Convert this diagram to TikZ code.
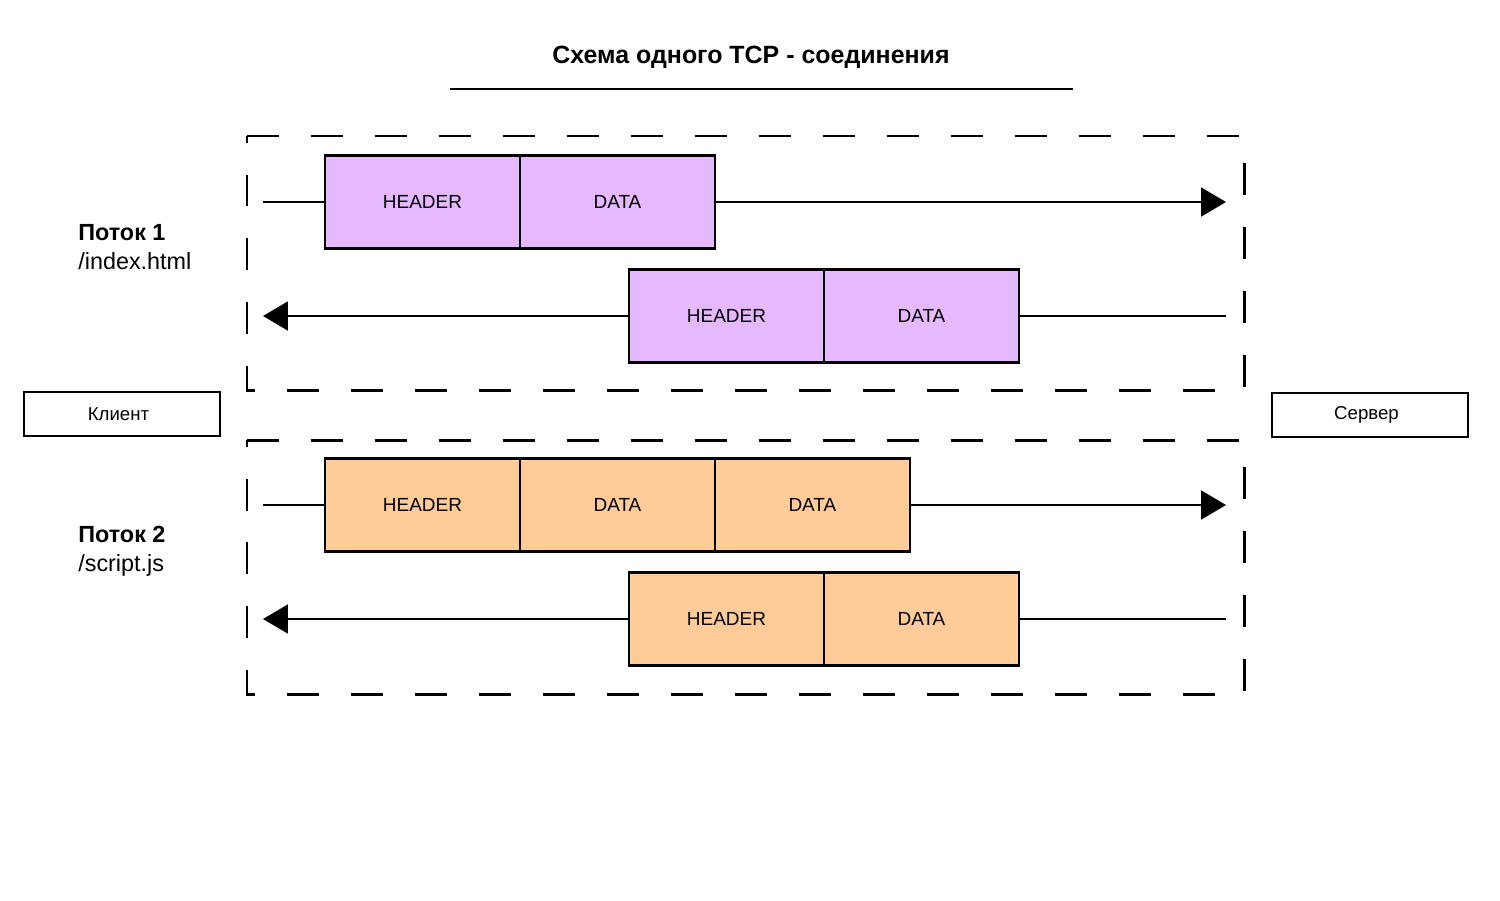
\documentclass[tikz,border=0pt]{standalone}
\usepackage{fontspec}
\setmainfont{Liberation Sans}
\usetikzlibrary{arrows.meta, positioning}
\definecolor{lilac}{HTML}{E6B8FF}
\definecolor{peach}{HTML}{FFCC99}

\begin{document}
\begin{tikzpicture}[
  x=0.02cm, y=-0.02cm,
  frame/.style={rectangle, draw, line width=1.5pt, minimum width=3.9cm, minimum height=1.86cm, inner sep=0pt, outer sep=0pt, font=\fontsize{10.8}{13}\selectfont},
  pkta/.style={frame, fill=lilac},
  pktb/.style={frame, fill=peach},
  endpoint/.style={rectangle, draw, line width=1.4pt, minimum width=3.92cm, minimum height=0.88cm, inner sep=0pt, font=\fontsize{10.6}{12}\selectfont},
  streamlabel/.style={anchor=west, align=left, inner sep=0pt, font=\fontsize{13.3}{16.6}\selectfont},
  group/.style={line width=1.7pt, dash pattern=on 0.64cm off 0.64cm},
  link/.style={line width=1.1pt},
  arrow/.style={line width=1.1pt, -{Triangle[length=0.5cm, width=0.58cm]}}
]
\useasboundingbox (0,0) rectangle (1500,900);

% Title
\node[font=\fontsize{14.2}{17}\selectfont\bfseries] (title) at (751,57) {Схема одного TCP - соединения};
\draw[link] (450,89) -- (1073,89);

% Streams
\draw[group] (247,136) -- (1244,136) -- (1244,390) -- (247,390) -- cycle;
\draw[group] (247,440) -- (1244,440) -- (1244,694) -- (247,694) -- cycle;

% Endpoints
\node[endpoint] (client) at (122,414) {\hspace{-4pt}Клиент};
\node[endpoint] (server) at (1370,415) {\hspace{-4pt}Сервер};

% Labels
\node[streamlabel] (lbl1) at (78,247) {\textbf{Поток 1}\\/index.html};
\node[streamlabel] (lbl2) at (78,551) {\textbf{Поток 2}\\/script.js};

% Stream 1 frames
\node[pkta, anchor=west] (h1) at (325,202) {HEADER};
\node[pkta, right=0pt of h1] (d1) {DATA};
\node[pkta, anchor=west] (h2) at (629,316) {HEADER};
\node[pkta, right=0pt of h2] (d2) {DATA};

% Stream 2 frames
\node[pktb, anchor=west] (h3) at (325,505) {HEADER};
\node[pktb, right=0pt of h3] (d3) {DATA};
\node[pktb, right=0pt of d3] (d4) {DATA};
\node[pktb, anchor=west] (h4) at (629,619) {HEADER};
\node[pktb, right=0pt of h4] (d5) {DATA};

% Ends of the lines
\coordinate (c1) at (263,202);
\coordinate (s1) at (1226,202);
\coordinate (c2) at (263,316);
\coordinate (s2) at (1226,316);
\coordinate (c3) at (263,505);
\coordinate (s3) at (1226,505);
\coordinate (c4) at (263,619);
\coordinate (s4) at (1226,619);

% Connections
\draw[link] (c1) -- (h1.west);
\draw[arrow] (d1.east) -- (s1);
\draw[link] (s2) -- (d2.east);
\draw[arrow] (h2.west) -- (c2);
\draw[link] (c3) -- (h3.west);
\draw[arrow] (d4.east) -- (s3);
\draw[link] (s4) -- (d5.east);
\draw[arrow] (h4.west) -- (c4);

\end{tikzpicture}
\end{document}
